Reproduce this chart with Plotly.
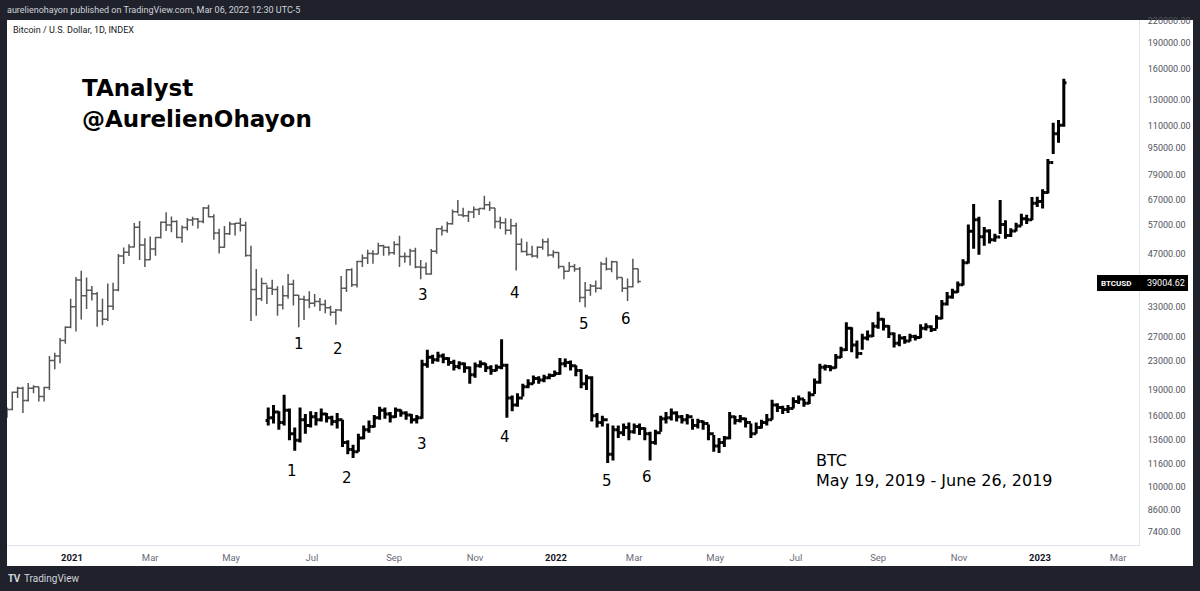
import pandas as pd
import plotly.graph_objects as go

# ---------------- data (prices in thousands of USD, 4-day bars) ----------------
gray_start = "2020-11-13"
gray_open0 = 16.3
gray_high = [16.9, 18.8, 19.4, 19.4, 19.9, 19.6, 19.4, 19.4, 23.8, 24.3,
             26.8, 29.0, 34.8, 40.2, 41.9, 40.1, 37.9, 36.4, 34.8, 38.5,
             38.7, 46.8, 48.9, 50.0, 57.5, 58.3, 52.0, 52.6, 52.4, 58.1,
             61.8, 60.1, 58.6, 56.6, 59.5, 60.0, 59.5, 64.0, 64.9, 61.0,
             55.4, 56.4, 58.0, 57.5, 59.5, 58.0, 49.5, 42.4, 40.0, 38.2,
             39.5, 37.8, 38.0, 41.0, 39.5, 35.7, 35.5, 36.6, 35.9, 35.0,
             34.6, 33.2, 32.5, 40.5, 42.3, 42.6, 44.8, 46.7, 48.2, 48.0,
             50.5, 49.8, 49.3, 51.0, 52.9, 47.3, 48.5, 48.8, 45.0, 44.3,
             48.4, 55.7, 56.5, 58.0, 62.9, 67.0, 63.7, 62.4, 64.2, 63.5,
             69.0, 66.4, 63.6, 60.0, 59.4, 59.2, 57.6, 51.9, 50.8, 49.5,
             49.3, 51.8, 52.0, 48.0, 47.5, 43.1, 44.4, 43.8, 43.0, 38.9,
             38.4, 39.3, 44.5, 45.8, 44.8, 44.6, 40.1, 39.8, 45.4, 42.5]
gray_low = [15.8, 16.6, 18.0, 16.3, 17.6, 18.6, 17.6, 17.6, 19.0, 21.8,
            22.7, 25.8, 28.6, 28.0, 30.3, 32.5, 34.4, 28.9, 29.2, 30.0,
            32.3, 36.6, 43.8, 46.2, 48.9, 45.0, 43.0, 45.0, 46.3, 51.9,
            54.6, 54.1, 52.0, 50.5, 54.7, 56.5, 55.5, 57.4, 59.7, 51.5,
            47.0, 48.8, 53.1, 53.0, 54.4, 46.0, 30.0, 31.1, 34.3, 33.6,
            35.7, 31.1, 32.4, 34.8, 33.3, 28.8, 30.2, 32.7, 33.0, 32.1,
            31.6, 31.1, 29.3, 32.0, 36.4, 37.6, 37.5, 43.0, 43.8, 43.9,
            46.8, 46.3, 46.4, 46.6, 43.0, 44.2, 43.4, 42.6, 39.6, 40.8,
            40.8, 46.9, 53.0, 53.9, 56.9, 61.3, 59.8, 57.9, 59.5, 60.7,
            62.8, 62.3, 55.6, 55.3, 53.3, 53.3, 42.0, 47.3, 46.3, 45.8,
            45.5, 48.2, 46.1, 45.7, 42.5, 39.6, 41.8, 41.6, 34.0, 32.9,
            35.5, 36.3, 37.0, 42.0, 41.5, 39.5, 36.4, 34.3, 37.5, 38.6]
gray_close = [16.7, 18.7, 19.2, 17.7, 19.2, 19.4, 18.2, 19.3, 23.1, 23.8,
              26.4, 28.8, 33.0, 39.4, 35.5, 36.8, 36.0, 32.1, 30.4, 33.1,
              36.9, 46.2, 47.4, 49.1, 55.9, 49.7, 45.1, 48.4, 52.3, 57.8,
              56.8, 58.1, 52.3, 55.8, 58.7, 59.1, 58.1, 63.6, 60.0, 53.8,
              49.0, 53.6, 57.2, 57.4, 56.7, 46.4, 37.0, 34.8, 38.5, 37.3,
              37.0, 33.4, 35.5, 38.3, 35.6, 34.7, 34.5, 33.8, 34.2, 33.5,
              32.8, 31.8, 32.3, 37.3, 42.2, 38.2, 44.6, 45.6, 47.0, 46.8,
              49.5, 49.0, 47.2, 49.9, 46.1, 46.1, 47.8, 43.0, 42.8, 41.0,
              47.7, 55.4, 54.7, 57.3, 62.0, 60.7, 60.4, 61.9, 62.9, 63.3,
              64.9, 63.6, 58.1, 57.6, 54.8, 56.5, 50.0, 47.6, 46.7, 46.2,
              49.0, 50.8, 46.5, 47.3, 43.1, 41.8, 43.1, 42.4, 35.1, 36.8,
              37.9, 37.3, 43.8, 42.4, 44.5, 40.1, 37.3, 37.7, 42.5, 39.00462]

black_start = "2021-05-29"
black_open0 = 15.5
black_high = [16.9, 17.2, 16.5, 18.4, 16.8, 14.8, 16.9, 16.2, 16.5, 16.4,
              16.8, 16.3, 16.0, 16.3, 15.6, 13.6, 13.2, 14.2, 15.0, 15.5,
              16.1, 17.0, 16.9, 16.4, 16.9, 16.7, 16.5, 16.2, 16.1, 23.2,
              24.8, 24.0, 24.5, 24.2, 23.6, 23.2, 23.0, 22.8, 22.2, 22.8,
              23.1, 22.7, 22.4, 22.5, 26.6, 22.6, 18.3, 18.6, 19.8, 20.4,
              20.9, 20.8, 21.0, 21.2, 21.6, 23.5, 23.4, 23.1, 22.4, 21.8,
              21.0, 20.8, 16.3, 16.0, 15.2, 15.0, 15.0, 15.2, 15.3, 15.2,
              15.2, 14.8, 14.4, 14.6, 16.0, 16.4, 16.8, 16.5, 16.1, 16.2,
              15.7, 15.7, 15.5, 15.1, 14.1, 13.8, 14.0, 16.4, 16.0, 16.1,
              15.8, 15.2, 15.3, 15.6, 16.2, 17.8, 17.4, 17.1, 17.2, 18.1,
              18.3, 17.9, 18.8, 20.5, 22.6, 22.5, 22.4, 24.1, 25.3, 29.8,
              28.8, 26.4, 27.6, 28.2, 29.8, 31.9, 30.6, 29.2, 27.8, 27.5,
              27.2, 27.6, 27.4, 29.4, 29.6, 29.2, 31.2, 34.5, 36.4, 37.2,
              39.0, 45.2, 57.0, 65.3, 60.0, 56.0, 55.2, 53.6, 67.0, 58.6,
              55.6, 57.6, 61.2, 60.8, 68.4, 68.5, 72.0, 88.0, 112.0, 114.0, 150.0]
black_low = [15.0, 15.2, 14.6, 15.0, 13.6, 12.7, 13.4, 14.2, 14.8, 15.0,
             15.4, 15.3, 15.0, 14.7, 13.0, 12.4, 12.1, 12.6, 13.7, 14.3,
             14.8, 15.6, 15.7, 15.3, 15.8, 15.9, 15.6, 15.2, 15.2, 15.7,
             22.0, 22.6, 22.9, 22.7, 22.3, 21.6, 21.8, 21.3, 19.8, 20.6,
             22.0, 21.4, 21.0, 21.5, 21.8, 15.8, 16.5, 17.0, 18.2, 19.2,
             19.8, 19.8, 20.0, 20.4, 20.8, 21.0, 22.1, 21.6, 20.8, 19.2,
             19.0, 15.4, 14.8, 14.9, 11.7, 11.9, 13.8, 14.0, 13.6, 14.2,
             14.1, 13.6, 11.9, 13.2, 14.4, 15.2, 15.5, 15.4, 15.2, 15.1,
             14.6, 14.7, 14.6, 13.6, 12.6, 12.5, 13.0, 13.7, 15.1, 15.3,
             14.8, 13.8, 14.2, 14.7, 15.0, 15.6, 16.4, 16.2, 16.3, 16.8,
             17.3, 17.0, 17.3, 18.5, 19.8, 21.6, 21.5, 21.9, 23.5, 24.6,
             24.4, 23.4, 24.8, 26.4, 27.0, 28.5, 28.2, 26.8, 25.2, 25.4,
             25.8, 26.2, 26.4, 26.8, 28.2, 27.9, 28.5, 30.4, 33.3, 34.8,
             36.2, 38.0, 44.0, 48.5, 46.6, 49.5, 50.2, 50.8, 53.5, 51.8,
             52.4, 54.4, 56.5, 57.2, 58.6, 64.0, 63.4, 70.0, 91.0, 98.0, 109.0]
black_close = [15.8, 16.4, 15.3, 16.6, 14.2, 13.6, 15.6, 15.0, 15.9, 15.6,
               16.2, 15.8, 15.4, 15.6, 13.4, 12.8, 12.6, 13.8, 14.6, 14.9,
               15.8, 16.6, 16.2, 15.9, 16.6, 16.3, 16.1, 15.6, 15.8, 22.5,
               23.6, 23.2, 23.8, 23.4, 22.8, 22.2, 22.6, 22.0, 21.0, 22.3,
               22.6, 22.0, 21.6, 22.1, 22.4, 18.0, 17.2, 18.0, 19.4, 19.8,
               20.5, 20.3, 20.6, 20.9, 21.2, 22.6, 22.8, 22.3, 21.6, 19.8,
               20.6, 16.0, 15.3, 15.6, 12.4, 14.6, 14.3, 14.8, 14.4, 14.9,
               14.7, 14.2, 13.4, 14.3, 15.7, 15.8, 16.3, 15.9, 15.6, 15.9,
               15.0, 15.4, 15.2, 14.2, 13.1, 13.4, 13.8, 15.9, 15.5, 15.7,
               15.3, 14.2, 14.8, 15.3, 15.6, 17.2, 16.9, 16.7, 16.8, 17.6,
               17.9, 17.4, 18.4, 20.0, 22.1, 22.2, 22.0, 23.6, 24.8, 28.6,
               25.6, 24.2, 26.8, 27.2, 29.0, 30.4, 29.0, 27.6, 25.9, 26.8,
               26.3, 27.1, 26.9, 28.6, 28.9, 28.4, 30.6, 33.6, 35.2, 36.4,
               38.2, 44.2, 54.5, 58.8, 52.5, 54.6, 51.5, 52.4, 57.0, 53.0,
               54.6, 56.4, 59.2, 58.8, 65.6, 66.4, 70.5, 86.0, 104.0, 110.0, 146.0]

ytick_vals = [220000, 190000, 160000, 130000, 110000, 95000, 79000, 67000, 57000, 47000,
              33000, 27000, 23000, 19000, 16000, 13600, 11600, 10000, 8600, 7400]
xtick_dates = ["2021-01-01", "2021-03-01", "2021-05-01", "2021-07-01", "2021-09-01", "2021-11-01",
               "2022-01-01", "2022-03-01", "2022-05-01", "2022-07-01", "2022-09-01", "2022-11-01",
               "2023-01-01", "2023-03-01"]
xtick_names = ["2021", "Mar", "May", "Jul", "Sep", "Nov", "2022", "Mar", "May", "Jul", "Sep", "Nov",
               "2023", "Mar"]
last_price = 39004.62

gray_labels = [("1", 299, 344), ("2", 338, 349), ("3", 423, 295), ("4", 515, 293), ("5", 584, 324), ("6", 626, 319)]
black_labels = [("1", 292, 471), ("2", 347, 478), ("3", 422, 444), ("4", 505, 437), ("5", 607, 481), ("6", 647, 477)]

# ---------------- build ----------------
def ohlc_frame(start, open0, high, low, close):
    n = len(close)
    dates = pd.date_range(start, periods=n, freq="4D")
    opens = [open0] + close[:-1]  # 24/7 market: each bar opens at the previous close
    k = 1000.0
    return dates, [v * k for v in opens], [v * k for v in high], [v * k for v in low], [v * k for v in close]

gd, go_, gh, gl, gc = ohlc_frame(gray_start, gray_open0, gray_high, gray_low, gray_close)
bd, bo, bh, bl, bc = ohlc_frame(black_start, black_open0, black_high, black_low, black_close)

fig = go.Figure()
fig.add_trace(go.Ohlc(x=gd, open=go_, high=gh, low=gl, close=gc,
                      increasing=dict(line=dict(color="#555555", width=1.5)),
                      decreasing=dict(line=dict(color="#555555", width=1.5)),
                      tickwidth=0.5, hoverinfo="skip", showlegend=False))
fig.add_trace(go.Ohlc(x=bd, open=bo, high=bh, low=bl, close=bc,
                      increasing=dict(line=dict(color="#000000", width=3)),
                      decreasing=dict(line=dict(color="#000000", width=3)),
                      tickwidth=0.5, hoverinfo="skip", showlegend=False))

L, R, T, B = 7, 61, 20, 46
W, H = 1200, 591
PW, PH = W - L - R, H - T - B

def px(x):
    return (x - L) / PW

def py(y):
    return (H - B - y) / PH

UI = "Roboto"
TXT = "DejaVu Sans"

shapes = [
    dict(type="rect", xref="paper", yref="paper", x0=px(7), x1=px(1193), y0=py(566), y1=py(20),
         fillcolor="white", line=dict(width=0), layer="below"),
    dict(type="rect", xref="paper", yref="paper", x0=px(1097), x1=px(1188), y0=py(291), y1=py(275),
         fillcolor="#000000", line=dict(width=0), layer="above"),
]

ann = []
def add(text, x, y, size, color="#000000", family=TXT, xanchor="left", yanchor="middle"):
    ann.append(dict(text=text, x=px(x), y=py(y), xref="paper", yref="paper", showarrow=False,
                    xanchor=xanchor, yanchor=yanchor, font=dict(size=size, color=color, family=family)))

add("aurelienohayon published on TradingView.com, Mar 06, 2022 12:30 UTC-5", 5, 10, 9, "#d1d4dc", UI)
add("Bitcoin / U.S. Dollar, 1D, INDEX", 11, 30, 9, "#131722", UI)
add("<b>TV</b>", 6, 578, 10, "#d1d4dc", "Open Sans")
add("TradingView", 22, 578, 10, "#d1d4dc", UI)
add("<b>TAnalyst</b>", 80, 88, 23)
add("<b>@AurelienOhayon</b>", 80, 119, 23)
add("BTC", 814, 460, 16)
add("May 19, 2019 - June 26, 2019", 814, 480, 16)
add("<b>BTCUSD</b>", 1099, 283, 8, "#ffffff", UI)
add(f"{last_price:.2f}", 1145, 283, 9, "#ffffff", UI)
for t, x, y in gray_labels + black_labels:
    add(t, x, y, 15, xanchor="center")

fig.update_layout(
    width=W, height=H,
    margin=dict(l=L, r=R, t=T, b=B, pad=0),
    paper_bgcolor="#1f222b", plot_bgcolor="white",
    showlegend=False, hovermode=False,
    shapes=shapes, annotations=ann,
    xaxis=dict(type="date", range=["2020-11-13", "2023-03-16 17:00"],
               rangeslider=dict(visible=False), showgrid=False, zeroline=False,
               showline=True, linecolor="#e0e3eb", linewidth=1, mirror=False,
               tickvals=xtick_dates,
               ticktext=[f"<b>{t}</b>" if t.isdigit() else f"<span style='color:#6a6d78'>{t}</span>"
                         for t in xtick_names],
               tickfont=dict(family=UI, size=9.5, color="#131722"), ticks="", ticklabelstandoff=4),
    yaxis=dict(type="log", side="right", range=[3.8318, 5.3451], showgrid=False, zeroline=False,
               showline=True, linecolor="#e0e3eb", linewidth=1,
               tickvals=ytick_vals, ticktext=[f"{v:.2f}" for v in ytick_vals],
               tickfont=dict(family=UI, size=9, color="#50535e"), ticks="", ticklabelstandoff=6),
)

fig.write_html("out.html", config=dict(displayModeBar=False))
